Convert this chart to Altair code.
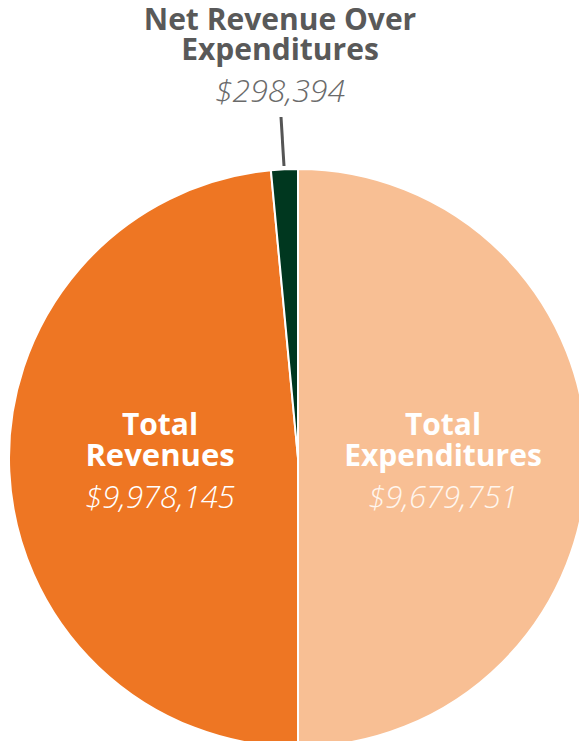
import altair as alt
import pandas as pd

# slice order as drawn clockwise from 12 o'clock
slice_names = ["Total Expenditures", "Total Revenues", "Net Revenue Over Expenditures"]
slice_sizes = [9978145, 9679751, 298394]   # arc sizes as drawn in the reference
slice_colors = ["#F8BF94", "#EE7623", "#00371F"]
slice_order = [1, 2, 3]

label_amounts = ["$9,679,751", "$9,978,145", "$298,394"]

df = pd.DataFrame({"name": slice_names, "size": slice_sizes, "ord": slice_order})

W, H = 571, 733
CX, CY, R = 290, 450, 289

pie = alt.Chart(df).mark_arc(stroke="white", strokeWidth=2, clip=True).encode(
    theta=alt.Theta("size:Q", stack=True),
    order=alt.Order("ord:Q"),
    color=alt.Color("name:N", scale=alt.Scale(domain=slice_names, range=slice_colors), legend=None),
    x=alt.value(CX), y=alt.value(CY), radius=alt.value(R),
)

FONT = "Open Sans"

def txt(s, x, y, color, size, weight="bold", style="normal"):
    return alt.Chart(pd.DataFrame({"t": [s]})).mark_text(
        font=FONT, fontSize=size, fontWeight=weight, fontStyle=style,
        color=color, align="center", baseline="alphabetic",
    ).encode(text="t:N", x=alt.value(x), y=alt.value(y))

white = "#FFFFFF"
gray = "#595959"
gray2 = "#6A6A6A"

labels = [
    txt("Total", 435, 427, white, 30),
    txt("Expenditures", 435, 458, white, 30),
    txt(label_amounts[0], 435, 500, "#FFF6EE", 31, weight=300, style="italic"),
    txt("Total", 152, 427, white, 30),
    txt("Revenues", 152, 458, white, 31),
    txt(label_amounts[1], 152, 500, white, 31, weight=300, style="italic"),
    txt("Net Revenue Over", 272, 22, gray, 30),
    txt("Expenditures", 272, 52, gray, 30),
    txt(label_amounts[2], 272, 94, gray2, 32, weight=300, style="italic"),
]

leader = alt.Chart(pd.DataFrame({"a": [0]})).mark_rule(color="#555555", strokeWidth=3).encode(
    x=alt.value(273), y=alt.value(109), x2=alt.value(276), y2=alt.value(158)
)

chart = alt.layer(pie, leader, *labels).properties(
    width=W, height=H, padding=0,
    autosize=alt.AutoSizeParams(type="none"),
).configure_view(stroke=None)

chart.save("out.html", embed_options={"renderer": "svg", "actions": False})
